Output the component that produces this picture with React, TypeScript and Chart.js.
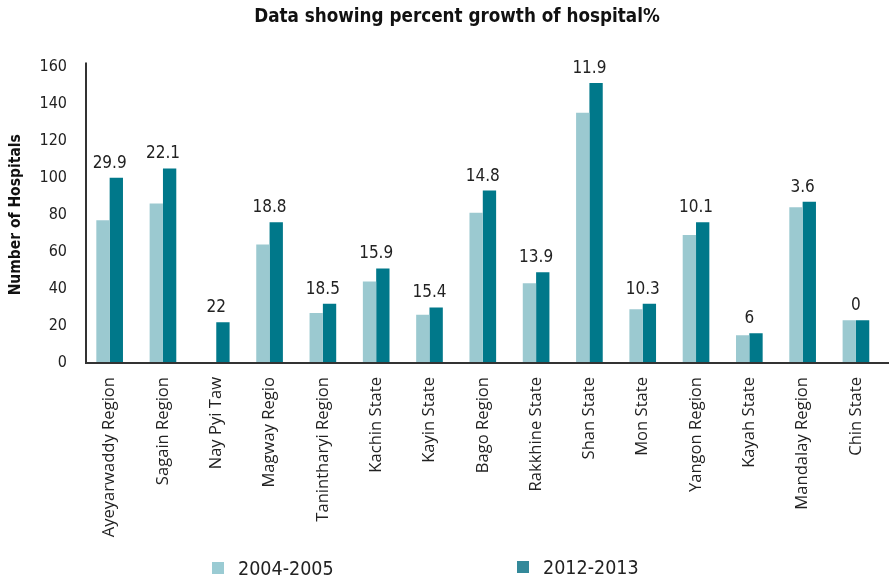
import React, { useEffect, useRef } from 'react';
import { Chart, registerables } from 'chart.js';

Chart.register(...registerables);

const categories = [
  'Ayeyarwaddy Region', 'Sagain Region', 'Nay Pyi Taw', 'Magway Regio', 'Tanintharyi Region',
  'Kachin State', 'Kayin State', 'Bago Region', 'Rakkhine State', 'Shan State',
  'Mon State', 'Yangon Region', 'Kayah State', 'Mandalay Region', 'Chin State',
];
const hospitals2004 = [77, 86, 0, 64, 27, 44, 26, 81, 43, 135, 29, 69, 15, 84, 23];
const hospitals2012 = [100, 105, 22, 76, 32, 51, 30, 93, 49, 151, 32, 76, 16, 87, 23];
const growthLabels = ['29.9', '22.1', '22', '18.8', '18.5', '15.9', '15.4', '14.8', '13.9', '11.9', '10.3', '10.1', '6', '3.6', '0'];
const seriesNames = ['2004-2005', '2012-2013'];
const yMin = 0;
const yMax = 160;
const yStep = 20;

const LIGHT = '#9BC9D0';
const DARK = '#00788A';
const LEGEND_COLORS = ['#9ACBD3', '#34899A'];
const NUM_FONT = '"DejaVu Sans Condensed", "Liberation Sans Narrow", sans-serif';
const TITLE_FONT = '"DejaVu Sans Condensed", "Liberation Sans Narrow", sans-serif';
const LABEL_FONT = '"Open Sans", "Noto Sans", sans-serif';

const overlayPlugin = {
  id: 'overlay',
  afterLayout(chart: any) {
    const tb = chart.titleBlock;
    if (tb) {
      tb.left += 14;
      tb.right += 14;
    }
  },
  afterDatasetsDraw(chart: any) {
    const ctx = chart.ctx;
    const area = chart.chartArea;
    const xs = chart.scales.x;
    const m0 = chart.getDatasetMeta(0);
    const m1 = chart.getDatasetMeta(1);
    ctx.save();
    // growth labels
    ctx.font = `17px ${NUM_FONT}`;
    ctx.fillStyle = '#222';
    ctx.textAlign = 'center';
    ctx.textBaseline = 'alphabetic';
    growthLabels.forEach((txt, i) => {
      const top = Math.min(m0.data[i].y, m1.data[i].y);
      ctx.fillText(txt, xs.getPixelForValue(i), top - 10);
    });
    // axes
    ctx.strokeStyle = '#333';
    ctx.lineWidth = 2;
    const ax = area.left + 3;
    ctx.beginPath();
    ctx.moveTo(ax, area.top - 4);
    ctx.lineTo(ax, area.bottom);
    ctx.lineTo(chart.width - 1, area.bottom);
    ctx.stroke();
    // legend
    ctx.font = `19.5px ${NUM_FONT}`;
    ctx.textAlign = 'left';
    ctx.textBaseline = 'middle';
    const items = [
      { x: 212, y: 568 },
      { x: 517, y: 567 },
    ];
    items.forEach((it, i) => {
      ctx.fillStyle = LEGEND_COLORS[i];
      ctx.fillRect(it.x, it.y - 6, 12, 12);
      ctx.fillStyle = '#222';
      ctx.fillText(seriesNames[i], it.x + 26, it.y + 2);
    });
    ctx.restore();
  },
};

export default function App() {
  const canvasRef = useRef<HTMLCanvasElement>(null);

  useEffect(() => {
    if (!canvasRef.current) return;
    const chart = new Chart(canvasRef.current, {
      type: 'bar',
      data: {
        labels: categories,
        datasets: [
          { label: seriesNames[0], data: hospitals2004, backgroundColor: LIGHT, categoryPercentage: 0.5, barPercentage: 1.0 },
          { label: seriesNames[1], data: hospitals2012, backgroundColor: DARK, categoryPercentage: 0.5, barPercentage: 1.0 },
        ],
      },
      options: {
        animation: false,
        responsive: true,
        maintainAspectRatio: false,
        layout: { padding: { left: 0, right: 4, top: 0, bottom: 0 } },
        plugins: {
          legend: { display: false },
          tooltip: { enabled: false },
          title: {
            display: true,
            text: 'Data showing percent growth of hospital%',
            color: '#111',
            font: { family: TITLE_FONT, size: 18.7, weight: 'bold' },
            padding: { top: 6, bottom: 38 },
          },
        },
        scales: {
          x: {
            grid: { display: false, drawTicks: false },
            border: { display: false },
            ticks: {
              autoSkip: false,
              maxRotation: 90,
              minRotation: 90,
              padding: 14,
              color: '#222',
              font: { family: LABEL_FONT, size: 16.6 },
            },
            afterFit(scale: any) {
              scale.height = 218;
            },
          },
          y: {
            min: yMin,
            max: yMax,
            grid: { display: false, drawTicks: false },
            border: { display: false },
            ticks: {
              stepSize: yStep,
              padding: 16,
              color: '#222',
              font: { family: NUM_FONT, size: 16 },
            },
            title: {
              display: true,
              text: 'Number of Hospitals',
              color: '#111',
              font: { family: TITLE_FONT, size: 15.5, weight: 'bold' },
              padding: { top: 7, bottom: 0 },
            },
            afterFit(scale: any) {
              scale.width = 83;
            },
          },
        },
      },
      plugins: [overlayPlugin],
    });
    return () => chart.destroy();
  }, []);

  return (
    <div style={{ position: 'fixed', left: 0, top: 0, width: 890, height: 581, background: '#fff' }}>
      <canvas ref={canvasRef} />
    </div>
  );
}
